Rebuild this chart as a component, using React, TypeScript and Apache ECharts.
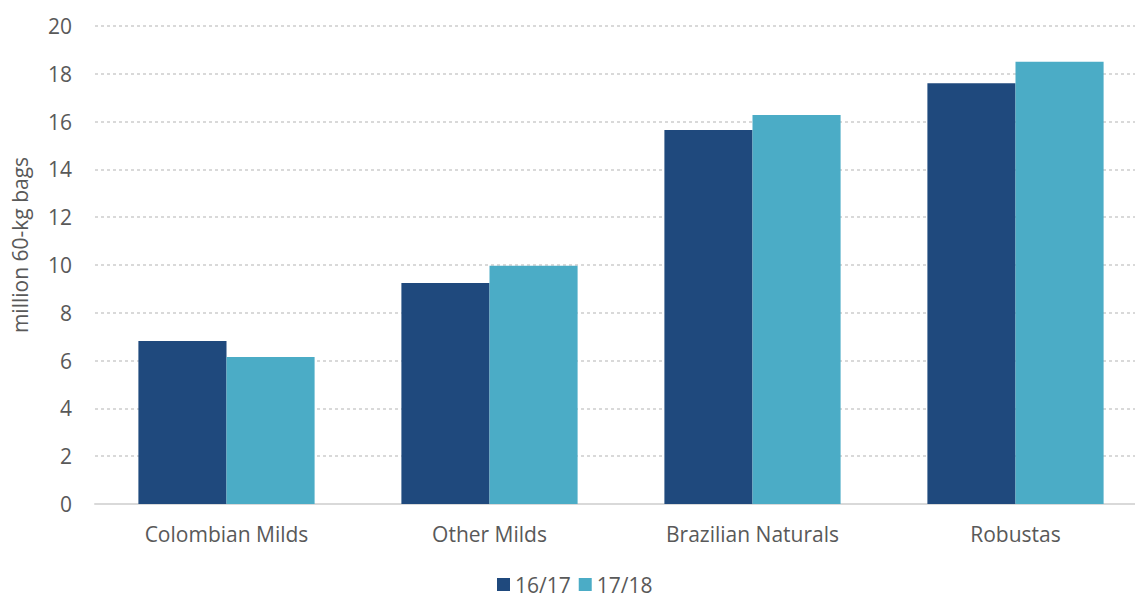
import React, { useEffect, useRef } from "react";
import * as echarts from "echarts";

const categories = ["Colombian Milds", "Other Milds", "Brazilian Naturals", "Robustas"];
const series1617 = [6.82, 9.25, 15.65, 17.6];
const series1718 = [6.15, 9.97, 16.28, 18.5];
const seriesNames = ["16/17", "17/18"];
const colors = ["#1F497D", "#4BACC6"];

export default function App() {
  const ref = useRef<HTMLDivElement>(null);
  useEffect(() => {
    if (!ref.current) return;
    const chart = echarts.init(ref.current, null, { renderer: "svg" });
    const font = "Open Sans";
    chart.setOption({
      animation: false,
      textStyle: { fontFamily: font },
      grid: { left: 95, top: 26, bottom: 93, right: 0 },
      legend: {
        data: seriesNames,
        bottom: 0,
        left: 492,
        itemWidth: 13,
        itemHeight: 13,
        itemGap: 8,
        icon: "rect",
        padding: [5, 5, 2, 5],
        textStyle: { color: "#595959", fontSize: 21, fontFamily: font },
      },
      xAxis: {
        type: "category",
        data: categories,
        axisLine: { lineStyle: { color: "#D9D9D9", width: 2 } },
        axisTick: { show: false },
        axisLabel: { color: "#595959", fontSize: 21, margin: 19, fontFamily: font },
      },
      yAxis: {
        type: "value",
        min: 0,
        max: 20,
        interval: 2,
        name: "million 60-kg bags",
        nameLocation: "middle",
        nameGap: 65,
        nameTextStyle: { color: "#595959", fontSize: 21, fontFamily: font, padding: [0, 0, 0, 40] },
        axisLine: { show: false },
        axisTick: { show: false },
        axisLabel: { color: "#595959", fontSize: 21, margin: 23, fontFamily: font },
        splitLine: { lineStyle: { color: "#D9D9D9", width: 2, type: [3, 3] } },
      },
      series: [
        {
          name: seriesNames[0],
          type: "bar",
          data: series1617,
          itemStyle: { color: colors[0] },
          barGap: "0%",
          barCategoryGap: "33%",
        },
        {
          name: seriesNames[1],
          type: "bar",
          data: series1718,
          itemStyle: { color: colors[1] },
          barGap: "0%",
          barCategoryGap: "33%",
        },
      ],
    });
    return () => chart.dispose();
  }, []);
  return (
    <div
      style={{ position: "fixed", left: 0, top: 0, width: 1135, height: 597, overflow: "hidden", background: "#fff" }}
    >
      <div ref={ref} style={{ width: 1147, height: 597 }} />
    </div>
  );
}
